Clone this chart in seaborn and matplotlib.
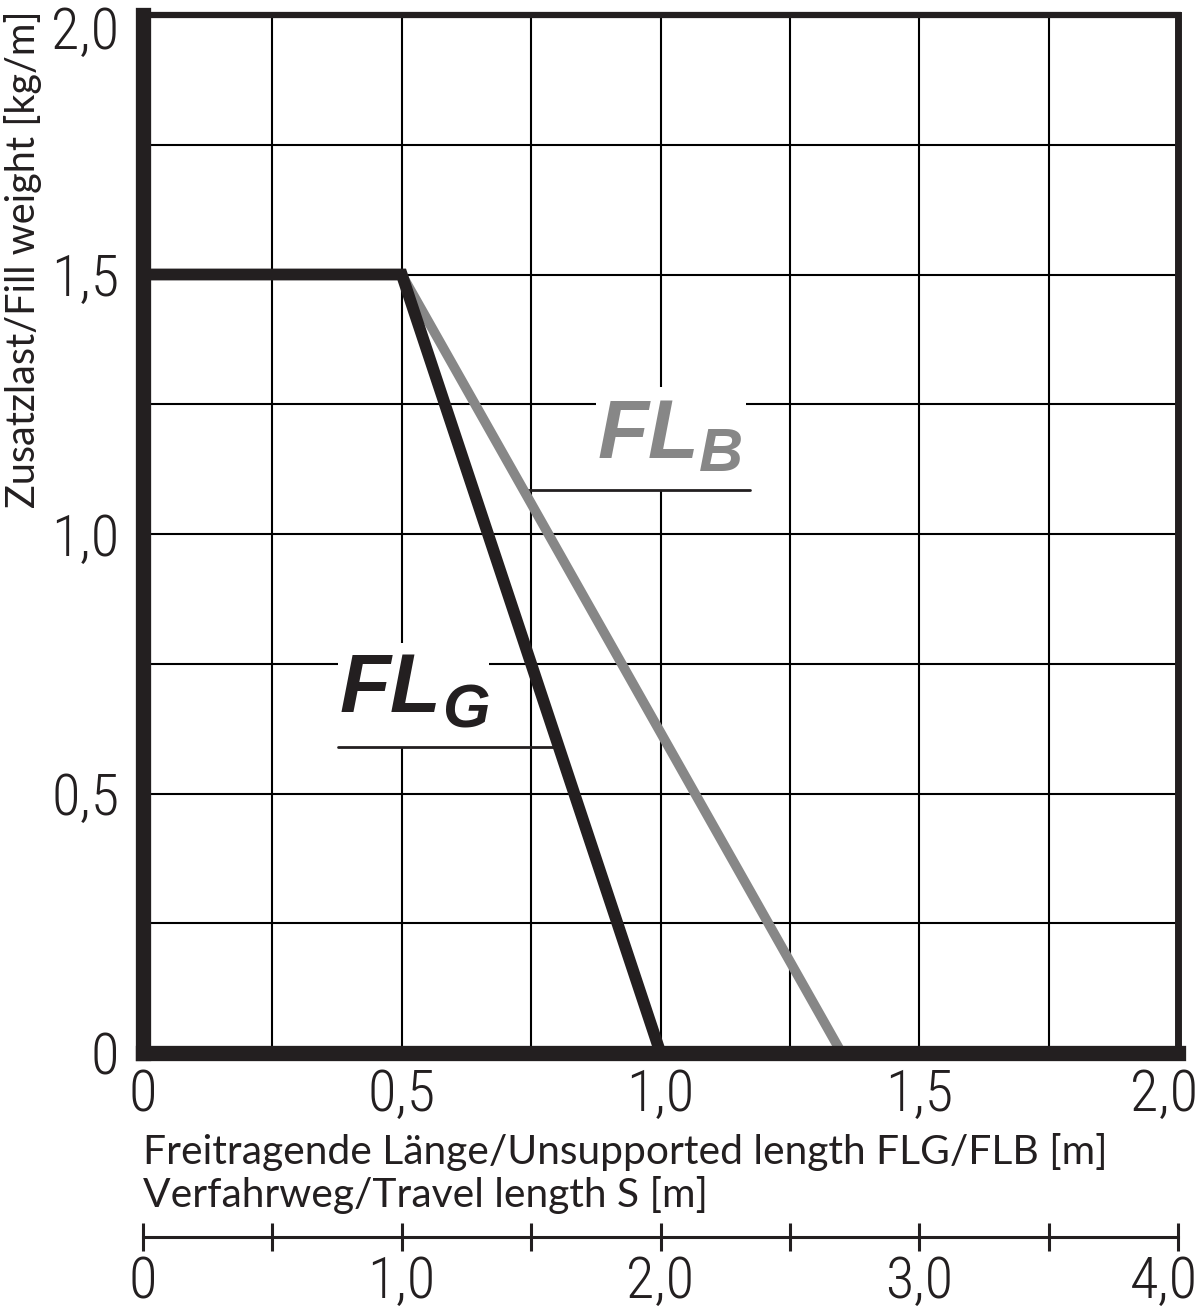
import matplotlib
matplotlib.use("Agg")
import matplotlib.pyplot as plt
import pandas as pd
import seaborn as sns
from matplotlib.patches import Rectangle
from matplotlib.ticker import FixedLocator, FuncFormatter
from matplotlib.transforms import ScaledTranslation

# load curves: unsupported length [m] vs fill weight [kg/m]
flg_len = [0.0, 0.5, 1.0]
flg_load = [1.5, 1.5, 0.0]
flb_len = [0.5, 1.35]
flb_load = [1.5, 0.0]

grid_steps = [0.0, 0.25, 0.5, 0.75, 1.0, 1.25, 1.5, 1.75, 2.0]
travel_ticks = [0.0, 0.5, 1.0, 1.5, 2.0, 2.5, 3.0, 3.5, 4.0]
travel_labels = ["0", "", "1,0", "", "2,0", "", "3,0", "", "4,0"]

BLACK = "#231f20"
GREY = "#878787"
TICK_FONT = ["Roboto Condensed", "Liberation Sans Narrow", "Roboto", "DejaVu Sans"]
LABEL_FONT = ["Lato", "DejaVu Sans"]
CURVE_FONT = ["Liberation Sans", "DejaVu Sans"]

sns.set_style("white")
plt.rcParams["font.family"] = TICK_FONT
plt.rcParams["font.weight"] = "light"

df_g = pd.DataFrame({"len": flg_len, "load": flg_load})
df_b = pd.DataFrame({"len": flb_len, "load": flb_load})

fig = plt.figure(figsize=(12, 13.1), dpi=100)
ax = fig.add_axes([143 / 1200, 1 - 1053 / 1310, (1178 - 143) / 1200, (1053 - 15) / 1310])

sns.lineplot(data=df_b, x="len", y="load", sort=False, color=GREY, lw=7,
             solid_capstyle="butt", ax=ax, zorder=2)
sns.lineplot(data=df_g, x="len", y="load", sort=False, color=BLACK, lw=8.5,
             solid_capstyle="butt", solid_joinstyle="miter", ax=ax, zorder=2.2)

ax.set_xlim(0, 2)
ax.set_ylim(0, 2)
ax.set_xlabel("")
ax.set_ylabel("")


def comma_fmt(v, pos):
    if abs(v * 2 - round(v * 2)) > 1e-6:
        return ""
    if abs(v) < 1e-9:
        return "0"
    return f"{v:.1f}".replace(".", ",")


for axis in (ax.xaxis, ax.yaxis):
    axis.set_major_locator(FixedLocator(grid_steps))
    axis.set_major_formatter(FuncFormatter(comma_fmt))

ax.set_axisbelow(True)
ax.grid(True, color="black", lw=1.5)
ax.tick_params(axis="y", direction="out", length=13, width=1.5, pad=4,
               labelsize=42, color=BLACK, labelcolor=BLACK)
ax.tick_params(axis="x", direction="out", length=11, width=1.5, pad=0,
               labelsize=42, color=BLACK, labelcolor=BLACK)

for side, lw in (("left", 11), ("bottom", 11), ("top", 4.5), ("right", 5)):
    ax.spines[side].set_visible(True)
    ax.spines[side].set_linewidth(lw)
    ax.spines[side].set_color(BLACK)

# curve labels with white masks + underline
labels = [
    # main, sub, color, main pos, sub pos, mask (x0, y0, x1, y1), underline (x0, x1, y)
    ("FL", "B", GREY, (0.878, 1.146), (1.075, 1.121), (0.876, 1.085, 1.165, 1.283), (0.733, 1.173, 1.085)),
    ("FL", "G", BLACK, (0.38, 0.657), (0.577, 0.628), (0.376, 0.59, 0.669, 0.79), (0.376, 0.795, 0.59)),
]
for main, sub, col, mpos, spos, mask, uline in labels:
    ax.add_patch(Rectangle((mask[0], mask[1]), mask[2] - mask[0], mask[3] - mask[1],
                           facecolor="white", edgecolor="none", zorder=1))
    ax.plot([uline[0], uline[1]], [uline[2], uline[2]], color=BLACK, lw=2, zorder=1.5)
    ax.text(*mpos, main, color=col, fontsize=60, fontweight="bold", fontstyle="italic",
            family=CURVE_FONT, va="baseline", ha="left", zorder=4)
    ax.text(*spos, sub, color=col, fontsize=44, fontweight="bold", fontstyle="italic",
            family=CURVE_FONT, va="baseline", ha="left", zorder=4)

# travel length scale S = 2 x FL
sec = ax.secondary_xaxis(-0.1773, functions=(lambda x: 2 * x, lambda x: x / 2))
sec.set_xticks(travel_ticks, labels=travel_labels)
sec.spines["bottom"].set_linewidth(2.2)
sec.spines["bottom"].set_color(BLACK)
sec.tick_params(direction="inout", length=20, width=2.2, pad=3, labelsize=42,
                color=BLACK, labelcolor=BLACK)

# last x labels sit flush with the right edge, top y label hangs below the frame
shift = ScaledTranslation(20 / 100, 0, fig.dpi_scale_trans)
for lab in (ax.get_xticklabels()[-1], sec.get_xticklabels()[-1]):
    lab.set_horizontalalignment("right")
    lab.set_transform(lab.get_transform() + shift)
top_lab = ax.get_yticklabels()[-1]
top_lab.set_verticalalignment("top")
top_lab.set_transform(top_lab.get_transform() + ScaledTranslation(0, 9 / 100, fig.dpi_scale_trans))

fig.text(143 / 1200, 1 - 1164 / 1310, "Freitragende Länge/Unsupported length FLG/FLB [m]",
         family=LABEL_FONT, fontsize=29.3, fontweight="normal", color=BLACK,
         ha="left", va="baseline")
fig.text(143 / 1200, 1 - 1207 / 1310, "Verfahrweg/Travel length S [m]",
         family=LABEL_FONT, fontsize=29.3, fontweight="normal", color=BLACK,
         ha="left", va="baseline")
fig.text(4 / 1200, 1 - 10 / 1310, "Zusatzlast/Fill weight [kg/m]",
         family=LABEL_FONT, fontsize=28.5, fontweight="normal", color=BLACK,
         rotation=90, ha="left", va="top")

fig.savefig("out.png", dpi=100, facecolor="white")
